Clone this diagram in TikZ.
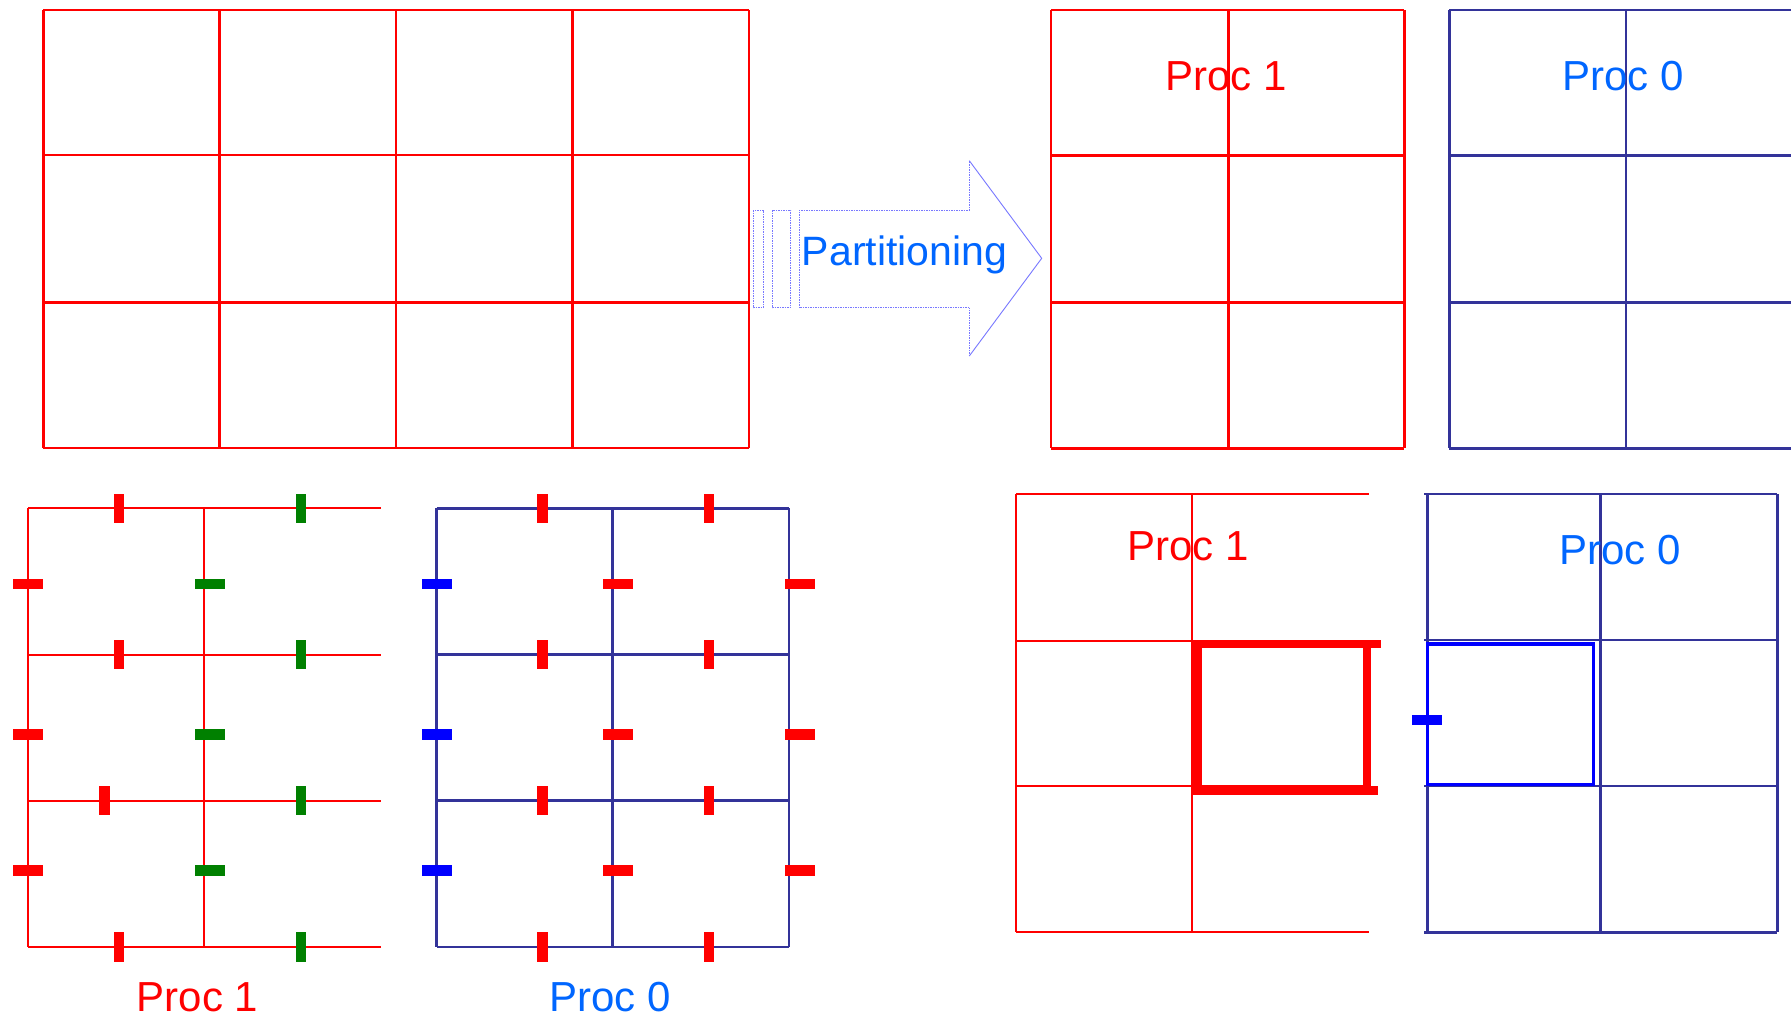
\documentclass[tikz,border=0pt]{standalone}
\usepackage{fontspec}
\setmainfont{Liberation Sans}
\definecolor{gred}{RGB}{255,0,0}
\definecolor{gnavy}{RGB}{51,51,153}
\definecolor{ggreen}{RGB}{0,128,0}
\definecolor{gblue}{RGB}{0,0,255}
\definecolor{tblue}{RGB}{0,102,255}
\definecolor{arrblue}{RGB}{120,120,255}
\newcommand\mvtick[3]{\fill[#1] ({#2-5.2},{#3-14.6}) rectangle ({#2+5.2},{#3+14.6});}
\newcommand\mhtick[3]{\fill[#1] ({#2-15},{#3-5.2}) rectangle ({#2+15},{#3+5.2});}
\tikzset{
  redgrid/.style={draw=gred, line width=2.6pt},
  redthin/.style={draw=gred, line width=2.3pt},
  navygrid/.style={draw=gnavy, line width=2.7pt},
  arrline/.style={draw=arrblue, line width=0.9pt, dash pattern=on 1.5pt off 1pt},
  lbl/.style={anchor=base, inner sep=0pt, font=\fontsize{42}{50}\selectfont},
}
\begin{document}
\begin{tikzpicture}[x=1pt,y=-1pt]
\useasboundingbox (0,0) rectangle (1791,1017);
\fill[white] (0,0) rectangle (1791,1017);

% ---------- top-left full grid ----------
\foreach \x in {43.3,219.3,396,572.3,749} \draw[redgrid] (\x,10) -- (\x,448);
\foreach \y in {10,155,302.5,448} \draw[redgrid] (43.3,\y) -- (749,\y);

% ---------- partitioning arrow ----------
\draw[arrline] (753.3,210) rectangle (763.3,307.7);
\draw[arrline] (772.3,210) rectangle (790.7,307.7);
\draw[arrline] (969.3,307.7) -- (799,307.7) -- (799,210) -- (969.3,210) -- (969.3,160.7);
\draw[draw=arrblue, line width=0.9pt] (969.3,160.7) -- (1041.7,258.3) -- (969.3,356);
\draw[arrline] (969.3,356) -- (969.3,307.7);
\node[lbl, text=tblue, font=\fontsize{41}{48}\selectfont] (part) at (904.5,265.7) {Partitioning};

% ---------- top-right Proc 1 ----------
\foreach \x in {1051,1228.3,1404.3} \draw[redgrid] (\x,10) -- (\x,448.3);
\foreach \y in {10,155.3,302.7,448.3} \draw[redgrid] (1051,\y) -- (1404.3,\y);
\node[lbl, text=gred] (tp1) at (1226,90.7) {Proc 1};

% ---------- top-right Proc 0 ----------
\foreach \x in {1449.3,1626} \draw[navygrid] (\x,10) -- (\x,448.3);
\foreach \y in {10,155.7,302.7,448.3} \draw[navygrid] (1449.3,\y) -- (1791,\y);
\node[lbl, text=tblue] (tp0) at (1623.3,90.7) {Proc 0};

% ---------- bottom-left Proc 1 ----------
\foreach \x in {28.3,204} \draw[redthin] (\x,508.3) -- (\x,947);
\foreach \y in {508.3,654.7,800.7,947} \draw[redthin] (28.3,\y) -- (381,\y);
\mvtick{gred}{119}{508.3}
\mvtick{gred}{119}{654.7}
\mvtick{gred}{104.3}{800.7}
\mvtick{gred}{119}{947}
\foreach \y in {508.3,654.7,800.7,947} {\mvtick{ggreen}{301}{\y}}
\foreach \y in {583.8,734.6,870.5} {\mhtick{gred}{28.3}{\y}\mhtick{ggreen}{209.7}{\y}}
\node[lbl, text=gred] (bp1) at (197.5,1011) {Proc 1};

% ---------- bottom-left Proc 0 ----------
\foreach \x in {436.7,612.7,789} \draw[navygrid] (\x,508.3) -- (\x,947);
\foreach \y in {508.3,654.7,800.7,947} \draw[navygrid] (436.7,\y) -- (789,\y);
\foreach \y in {508.3,654.7,800.7,947} {\mvtick{gred}{542.6}{\y}\mvtick{gred}{708.7}{\y}}
\foreach \y in {583.8,734.6,870.5} {\mhtick{gblue}{436.7}{\y}\mhtick{gred}{618}{\y}\mhtick{gred}{799.5}{\y}}
\node[lbl, text=tblue] (bp0) at (610,1011) {Proc 0};

% ---------- bottom-right Proc 1 ----------
\foreach \x in {1016,1192.3} \draw[redthin] (\x,494) -- (\x,932.3);
\foreach \y in {494,640.7,786,932.3} \draw[redthin] (1016,\y) -- (1368.7,\y);
\fill[gred] (1192.7,640) rectangle (1380.7,648.3);
\fill[gred] (1192.7,785.7) rectangle (1377.7,795);
\fill[gred] (1192.7,640) rectangle (1201.7,795);
\fill[gred] (1363.3,640) rectangle (1371,795);
\node[lbl, text=gred] (rp1) at (1188,560) {Proc 1};

% ---------- bottom-right Proc 0 ----------
\foreach \x in {1427.3,1600.7,1777.3} \draw[navygrid] (\x,494) -- (\x,932.3);
\foreach \y in {494,640,786,932.3} \draw[navygrid] (1424,\y) -- (1777.3,\y);
\draw[draw=gblue, line width=3.4pt] (1427.7,644) rectangle (1593.3,784.5);
\fill[gblue] (1412.3,715) rectangle (1442,725.3);
\node[lbl, text=tblue] (rp0) at (1620,564) {Proc 0};
\end{tikzpicture}
\end{document}
